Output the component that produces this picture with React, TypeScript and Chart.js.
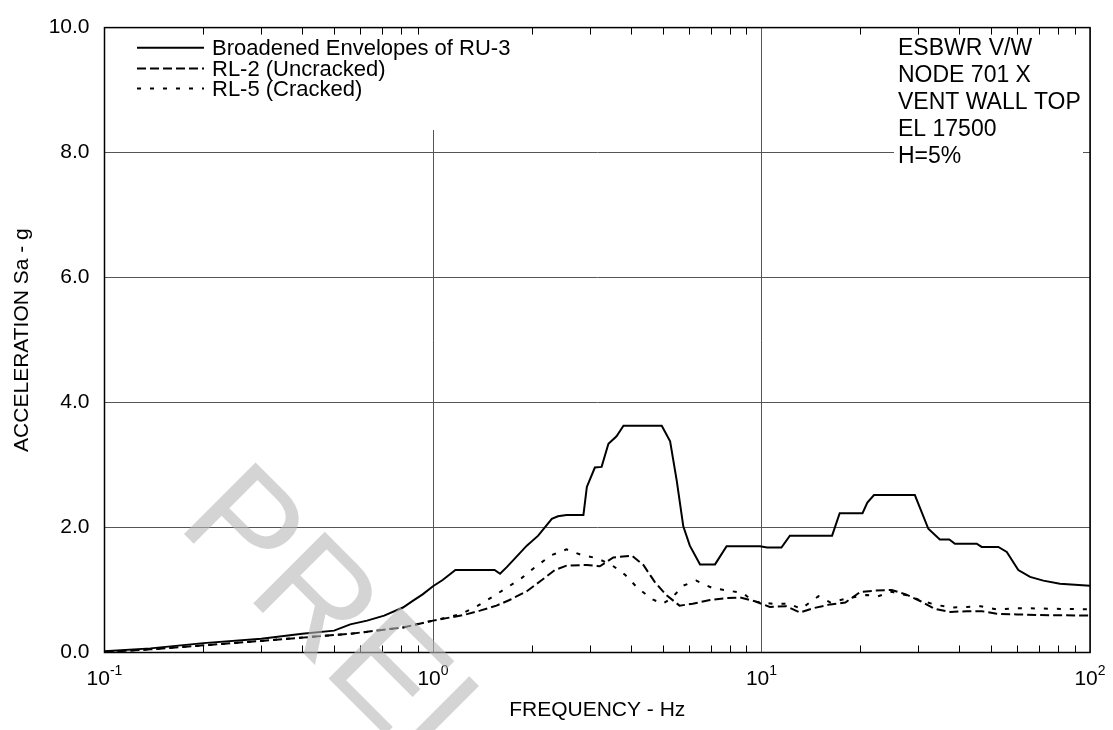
import React, { useEffect, useRef } from 'react';
import { Chart, registerables } from 'chart.js';

Chart.register(...registerables);

const FONT = '"Liberation Sans", Arial, Helvetica, sans-serif';

// Broadened Envelopes of RU-3 (solid)
const ru3Freq = [0.1, 0.138, 0.2, 0.3, 0.4, 0.5, 0.56, 0.63, 0.71, 0.81, 0.87, 0.93, 1.0, 1.07, 1.17, 1.54, 1.6, 1.68, 1.93, 2.09, 2.3, 2.4, 2.55, 2.87, 2.94, 3.11, 3.26, 3.42, 3.62, 3.8, 4.97, 5.27, 5.52, 5.78, 6.05, 6.5, 7.22, 7.83, 9.9, 10.4, 11.5, 12.2, 16.4, 17.3, 20.3, 21.0, 22.0, 29.3, 32.2, 34.9, 37.3, 38.8, 45.2, 46.8, 52.6, 55.8, 60.5, 65.7, 72.1, 81.0, 100];
const ru3Acc = [0.02, 0.066, 0.15, 0.22, 0.30, 0.35, 0.45, 0.51, 0.59, 0.72, 0.83, 0.93, 1.06, 1.16, 1.32, 1.32, 1.26, 1.37, 1.71, 1.87, 2.14, 2.18, 2.20, 2.20, 2.65, 2.96, 2.97, 3.34, 3.46, 3.63, 3.63, 3.38, 2.75, 2.02, 1.71, 1.41, 1.41, 1.70, 1.70, 1.68, 1.68, 1.87, 1.87, 2.23, 2.23, 2.40, 2.52, 2.52, 1.98, 1.81, 1.81, 1.74, 1.74, 1.69, 1.69, 1.61, 1.32, 1.21, 1.15, 1.10, 1.07];

// RL-2 (Uncracked) (dashed)
const rl2Freq = [0.1, 0.138, 0.2, 0.3, 0.4, 0.56, 0.81, 1.0, 1.1, 1.24, 1.39, 1.56, 1.71, 1.93, 2.12, 2.35, 2.55, 2.94, 3.22, 3.54, 4.03, 4.37, 4.73, 5.13, 5.63, 6.17, 6.97, 7.83, 8.6, 9.55, 10.6, 11.9, 13.1, 14.4, 16.2, 18.0, 20.0, 22.2, 24.9, 27.5, 30.5, 33.6, 37.6, 42.3, 47, 52, 60, 70, 100];
const rl2Acc = [0.01, 0.05, 0.115, 0.185, 0.238, 0.30, 0.40, 0.51, 0.55, 0.60, 0.67, 0.75, 0.84, 0.98, 1.14, 1.32, 1.39, 1.40, 1.38, 1.52, 1.55, 1.40, 1.13, 0.92, 0.75, 0.78, 0.84, 0.87, 0.88, 0.82, 0.73, 0.74, 0.64, 0.71, 0.77, 0.80, 0.97, 0.99, 1.0, 0.93, 0.82, 0.70, 0.65, 0.66, 0.66, 0.62, 0.61, 0.60, 0.59];

// RL-5 (Cracked) (dotted)
const rl5Freq = [0.1, 0.138, 0.2, 0.3, 0.4, 0.56, 0.81, 1.0, 1.1, 1.22, 1.36, 1.51, 1.67, 1.86, 2.06, 2.3, 2.55, 2.83, 3.15, 3.5, 3.85, 4.2, 4.66, 5.0, 5.3, 5.78, 6.33, 7.1, 7.93, 8.8, 9.4, 10.8, 12.1, 13.2, 14.9, 16.2, 18.4, 20.9, 22.6, 24.9, 27.5, 31, 34.2, 37.8, 42.2, 46.5, 52, 60, 100];
const rl5Acc = [0.01, 0.05, 0.115, 0.185, 0.24, 0.30, 0.40, 0.51, 0.56, 0.62, 0.74, 0.885, 1.03, 1.19, 1.38, 1.56, 1.65, 1.56, 1.51, 1.40, 1.24, 1.03, 0.85, 0.78, 0.86, 1.07, 1.15, 1.03, 0.99, 0.95, 0.82, 0.78, 0.78, 0.70, 0.90, 0.80, 0.87, 0.92, 0.90, 0.97, 0.92, 0.82, 0.76, 0.72, 0.73, 0.74, 0.69, 0.71, 0.69];

const seriesLabels = ['Broadened Envelopes of RU-3', 'RL-2 (Uncracked)', 'RL-5 (Cracked)'];
const seriesDash = [[], [9, 4], [4, 9]];

const xTickValues = [0.1, 1, 10, 100];
const xTickExponents = ['-1', '0', '1', '2'];
const xMinorMultipliers = [2, 3, 4, 5, 6, 7, 8, 9];
const yTickStep = 2;

const infoLines = ['ESBWR V/W', 'NODE 701 X', 'VENT WALL TOP', 'EL 17500', 'H=5%'];
const xTitle = 'FREQUENCY - Hz';
const yTitle = 'ACCELERATION Sa - g';
const watermark = 'PRELIMINARY';

const toPoints = (xs: number[], ys: number[]) => xs.map((x, i) => ({ x, y: ys[i] }));

const overlayPlugin = {
  id: 'overlay',
  afterDraw(chart: any) {
    const { ctx, chartArea: ca } = chart;
    const xs = chart.scales.x;
    ctx.save();

    // white boxes behind legend and info text
    ctx.fillStyle = '#ffffff';
    ctx.fillRect(122, 22, 400, 108);
    ctx.fillRect(894, 28, 189, 142);

    // plot frame
    ctx.strokeStyle = '#000';
    ctx.lineWidth = 1.5;
    ctx.strokeRect(ca.left, ca.top, ca.right - ca.left, ca.bottom - ca.top);

    // minor ticks on x (bottom and top, inward)
    ctx.lineWidth = 1;
    ctx.beginPath();
    for (let d = 0; d < xTickValues.length - 1; d++) {
      for (const m of xMinorMultipliers) {
        const px = Math.round(xs.getPixelForValue(xTickValues[d] * m)) + 0.5;
        ctx.moveTo(px, ca.bottom);
        ctx.lineTo(px, ca.bottom - 7);
        ctx.moveTo(px, ca.top);
        ctx.lineTo(px, ca.top + 7);
      }
    }
    ctx.stroke();

    // legend
    const legendRows = [47.7, 68.5, 88.5];
    ctx.fillStyle = '#000';
    ctx.font = `22px ${FONT}`;
    ctx.textBaseline = 'middle';
    ctx.textAlign = 'left';
    seriesLabels.forEach((lab, i) => {
      ctx.beginPath();
      ctx.setLineDash(seriesDash[i]);
      ctx.lineWidth = 2;
      ctx.moveTo(137, legendRows[i]);
      ctx.lineTo(204, legendRows[i]);
      ctx.stroke();
      ctx.setLineDash([]);
      ctx.fillText(lab, 212, legendRows[i] + 1);
    });

    // info text
    ctx.font = `23px ${FONT}`;
    ctx.textBaseline = 'alphabetic';
    infoLines.forEach((t, i) => {
      ctx.fillText(t, 898, 55 + i * 27);
    });

    // x tick labels with superscripts
    xTickValues.forEach((v, i) => {
      const px = xs.getPixelForValue(v);
      ctx.font = `21px ${FONT}`;
      const w1 = ctx.measureText('10').width;
      ctx.font = `14px ${FONT}`;
      const w2 = ctx.measureText(xTickExponents[i]).width;
      const start = px - (w1 + w2) / 2;
      ctx.font = `21px ${FONT}`;
      ctx.fillText('10', start, 685);
      ctx.font = `14px ${FONT}`;
      ctx.fillText(xTickExponents[i], start + w1, 675);
    });

    // axis titles
    ctx.font = `21px ${FONT}`;
    ctx.textAlign = 'center';
    ctx.fillText(xTitle, (ca.left + ca.right) / 2, 716);
    ctx.save();
    ctx.translate(22, (ca.top + ca.bottom) / 2);
    ctx.rotate(-Math.PI / 2);
    ctx.textBaseline = 'middle';
    ctx.fillText(yTitle, 0, 0);
    ctx.restore();

    // watermark
    ctx.save();
    ctx.translate(175.5, 525.5);
    ctx.rotate(Math.PI / 4);
    ctx.font = `147px ${FONT}`;
    ctx.textAlign = 'left';
    ctx.textBaseline = 'alphabetic';
    ctx.fillStyle = 'rgba(184,184,184,0.6)';
    ctx.fillText(watermark, 0, 0);
    ctx.restore();

    ctx.restore();
  },
};

export default function App() {
  const ref = useRef<HTMLCanvasElement>(null);
  useEffect(() => {
    const chart = new Chart(ref.current as HTMLCanvasElement, {
      type: 'line',
      data: {
        datasets: [
          { label: seriesLabels[0], data: toPoints(ru3Freq, ru3Acc), borderColor: '#000', borderWidth: 2, borderDash: seriesDash[0], pointRadius: 0, tension: 0, fill: false },
          { label: seriesLabels[1], data: toPoints(rl2Freq, rl2Acc), borderColor: '#000', borderWidth: 2, borderDash: seriesDash[1], pointRadius: 0, tension: 0, fill: false },
          { label: seriesLabels[2], data: toPoints(rl5Freq, rl5Acc), borderColor: '#000', borderWidth: 2, borderDash: seriesDash[2], pointRadius: 0, tension: 0, fill: false },
        ],
      },
      options: {
        responsive: false,
        animation: false,
        parsing: false as any,
        layout: { padding: { top: 14, right: 23, bottom: 0, left: 0 } },
        plugins: { legend: { display: false }, tooltip: { enabled: false } },
        scales: {
          x: {
            type: 'logarithmic',
            min: 0.1,
            max: 100,
            afterBuildTicks: (s: any) => {
              s.ticks = xTickValues.map((v) => ({ value: v, major: true }));
            },
            afterFit: (s: any) => {
              s.height = 77.5;
            },
            ticks: { display: false },
            grid: { color: '#555', lineWidth: 1, drawTicks: false },
            border: { display: false },
          },
          y: {
            type: 'linear',
            min: 0,
            max: 10,
            ticks: {
              stepSize: yTickStep,
              padding: 15,
              color: '#000',
              font: { family: FONT, size: 21 },
              callback: (v: any) => Number(v).toFixed(1),
            },
            afterFit: (s: any) => {
              s.width = 104.5;
            },
            grid: { color: '#555', lineWidth: 1, drawTicks: false },
            border: { display: false },
          },
        },
      },
      plugins: [overlayPlugin],
    });
    return () => chart.destroy();
  }, []);
  return (
    <div style={{ position: 'fixed', left: 0, top: 0, width: 1113, height: 730, background: '#fff' }}>
      <canvas ref={ref} width={1113} height={730} style={{ display: 'block' }} />
    </div>
  );
}
